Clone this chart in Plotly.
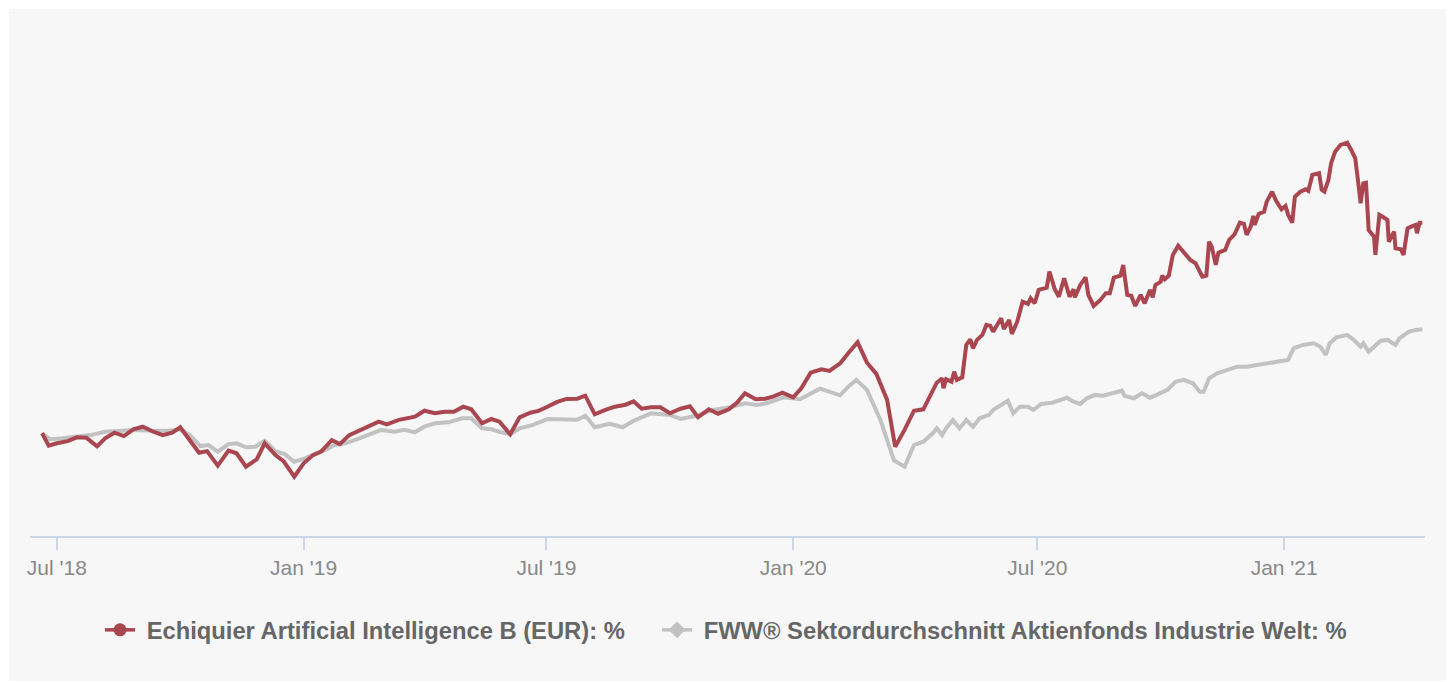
import pandas as pd
import plotly.graph_objects as go

# Performance in %. Time as day offsets from 1 Jul 2018.
START = "2018-07-01"

red_name = "Echiquier Artificial Intelligence B (EUR): %"
red_days = [-11, -6, 0, 8, 15, 22, 30, 36, 43, 50, 57, 64, 72, 79, 86, 92, 106, 112, 120, 128,
            134, 141, 149, 155, 163, 169, 177, 184, 191, 197, 205, 211, 218, 226, 232, 240, 246,
            255, 267, 274, 282, 289, 296, 303, 309, 317, 324, 330, 338, 345, 353, 359, 365, 373,
            380, 388, 394, 401, 409, 416, 424, 430, 436, 443, 450, 457, 465, 472, 478, 486, 493,
            501, 507, 513, 521, 528, 534, 541, 549, 555, 562, 570, 576, 584, 590, 597, 604, 611,
            619, 625, 632, 639, 646, 651, 656, 660, 661, 663, 667, 669, 671, 675, 678, 681, 683,
            686, 690, 693, 696, 698, 704, 706, 710, 712, 716, 720, 724, 726, 729, 732, 738, 740,
            744, 747, 751, 755, 758, 759, 763, 767, 769, 773, 778, 782, 785, 788, 793, 795, 798,
            801, 804, 808, 811, 815, 817, 819, 823, 824, 826, 829, 832, 836, 840, 845, 849, 851,
            854, 857, 859, 861, 864, 866, 871, 874, 878, 882, 885, 887, 890, 892, 893, 896, 900,
            902, 906, 909, 913, 916, 918, 921, 923, 927, 931, 933, 936, 941, 943, 945, 948, 950,
            953, 957, 962, 965, 968, 970, 972, 974, 976, 978, 982, 983, 985, 986, 989, 992, 993,
            997, 998, 1002, 1004, 1007, 1011, 1013, 1014, 1016, 1018]
red_vals = [0.1, -6.1, -4.9, -3.8, -1.9, -2.1, -6.4, -2.4, 0.4, -1.3, 2.1, 3.4, 0.9, -0.8, 0.4,
            3.1, -9.6, -8.8, -16.1, -8.6, -9.9, -16.6, -12.9, -4.9, -10.8, -13.8, -21.6, -14.9,
            -10.8, -9.1, -3.3, -5.3, -0.8, 1.8, 3.4, 5.9, 4.6, 6.8, 8.4, 11.4, 10.1, 10.9, 10.9,
            13.4, 12.1, 5.1, 7.3, 5.9, -0.4, 8.1, 10.4, 11.3, 13.1, 15.8, 17.3, 17.4, 18.9, 9.6,
            11.8, 13.4, 14.4, 16.1, 12.4, 13.1, 13.1, 10.1, 12.4, 13.6, 8.1, 12.1, 9.9, 12.1,
            15.4, 20.1, 17.1, 17.4, 18.4, 20.4, 18.1, 22.6, 30.4, 32.1, 31.3, 35.1, 40.1, 45.6,
            35.4, 29.8, 16.8, -6.6, 1.8, 11.4, 12.1, 19.3, 25.4, 27.6, 22.6, 27.1, 25.9, 30.9,
            26.8, 28.1, 44.3, 47.1, 42.6, 46.8, 49.3, 54.3, 53.8, 50.9, 57.6, 52.3, 56.8, 49.8,
            55.9, 65.9, 64.8, 67.6, 65.1, 71.8, 72.9, 80.9, 72.1, 68.4, 77.6, 68.4, 72.1, 68.1,
            74.3, 78.1, 69.3, 63.8, 66.8, 70.1, 70.1, 77.9, 78.9, 84.3, 69.3, 68.9, 63.8, 69.3,
            65.1, 71.8, 68.1, 74.3, 75.9, 78.9, 77.1, 78.9, 89.3, 93.9, 90.4, 86.8, 85.1, 82.6,
            78.4, 78.9, 95.9, 93.4, 84.3, 90.4, 91.8, 96.8, 99.6, 105.4, 104.8, 99.3, 103.4,
            108.8, 104.3, 109.8, 110.9, 115.9, 120.9, 116.4, 112.1, 113.8, 109.3, 105.4, 118.4,
            120.9, 122.1, 121.3, 129.3, 130.1, 121.8, 120.9, 126.8, 135.1, 140.9, 144.3, 145.4,
            141.8, 137.6, 126.8, 115.1, 125.1, 125.4, 101.8, 98.4, 89.3, 100.9, 109.3, 108.1,
            106.8, 95.9, 100.9, 92.6, 92.1, 89.3, 102.6, 103.8, 104.3, 100.1, 105.4, 105.4]

gray_name = "FWW® Sektordurchschnitt Aktienfonds Industrie Welt: %"
gray_days = [-11, -5, 4, 16, 25, 36, 46, 58, 71, 83, 92, 99, 107, 113, 120, 128, 134, 141, 148,
             155, 163, 170, 177, 185, 192, 200, 207, 215, 222, 232, 242, 252, 259, 267, 274, 282,
             292, 302, 309, 317, 324, 330, 338, 345, 355, 366, 378, 388, 394, 401, 412, 422, 430,
             443, 457, 465, 477, 489, 502, 513, 522, 529, 542, 554, 569, 584, 590, 596, 604, 614,
             624, 632, 639, 646, 653, 656, 660, 663, 668, 673, 678, 683, 688, 695, 698, 705, 709,
             713, 718, 724, 728, 734, 742, 747, 753, 758, 763, 768, 774, 780, 788, 794, 796, 803,
             809, 815, 820, 828, 834, 840, 847, 852, 855, 859, 865, 872, 880, 887, 895, 902, 910,
             918, 922, 929, 937, 942, 946, 949, 954, 962, 967, 972, 974, 978, 982, 987, 992, 998,
             1001, 1008, 1013, 1018]
gray_vals = [0.1, -2.9, -2.4, -1.3, -0.8, 0.9, 1.4, 1.8, 1.4, 1.4, 2.1, -0.8, -6.3, -5.8, -9.1,
             -5.3, -4.9, -6.9, -6.6, -3.6, -8.8, -10.3, -14.1, -12.4, -10.3, -8.3, -5.8, -4.9,
             -3.3, -0.8, 1.8, 0.9, 1.8, 0.6, 3.4, 5.1, 5.6, 7.6, 7.6, 2.6, 2.1, 0.9, -0.4, 2.6,
             4.3, 7.3, 7.3, 6.9, 8.9, 3.1, 4.9, 3.1, 6.4, 10.1, 9.3, 7.3, 8.9, 11.8, 13.1, 15.1,
             14.3, 15.1, 18.1, 17.1, 22.4, 19.1, 23.4, 26.8, 21.8, 6.8, -13.3, -16.6, -5.8, -4.1,
             0.1, 2.6, -0.8, 2.6, 6.8, 2.6, 6.8, 3.4, 7.6, 9.3, 11.8, 14.8, 16.4, 10.1, 13.4,
             13.4, 11.8, 14.8, 15.4, 16.4, 17.9, 15.9, 14.8, 17.6, 19.3, 18.9, 20.4, 21.4, 18.8,
             17.6, 20.1, 17.9, 19.3, 21.8, 25.9, 26.8, 25.1, 20.9, 20.9, 27.6, 30.1, 31.8, 33.4,
             33.4, 34.3, 35.1, 35.9, 36.8, 42.6, 44.3, 45.1, 43.4, 39.3, 45.1, 48.1, 49.3, 46.8,
             43.4, 45.1, 40.9, 43.4, 46.4, 46.8, 44.3, 47.6, 50.9, 51.8, 52.1]

tick_dates = ["2018-07-01", "2019-01-01", "2019-07-01", "2020-01-01", "2020-07-01", "2021-01-01"]
tick_labels = ["Jul '18", "Jan '19", "Jul '19", "Jan '20", "Jul '20", "Jan '21"]

RED = "#a94650"
GRAY = "#c2c2c2"
FONT = "Liberation Sans, Arial, Helvetica, sans-serif"
NBSP = "\u00a0"

start = pd.Timestamp(START)
red_x = start + pd.to_timedelta(red_days, unit="D")
gray_x = start + pd.to_timedelta(gray_days, unit="D")

fig = go.Figure()
fig.add_trace(go.Scatter(x=gray_x, y=gray_vals, mode="lines", line=dict(color=GRAY, width=4),
                         showlegend=False, hoverinfo="skip"))
fig.add_trace(go.Scatter(x=red_x, y=red_vals, mode="lines", line=dict(color=RED, width=4),
                         showlegend=False, hoverinfo="skip"))
# legend entries
fig.add_trace(go.Scatter(x=[None], y=[None], mode="lines+markers", name=NBSP + red_name,
                         line=dict(color=RED, width=3.5), legend="legend",
                         marker=dict(symbol="circle", size=13, color=RED)))
fig.add_trace(go.Scatter(x=[None], y=[None], mode="lines+markers", name=NBSP + gray_name,
                         line=dict(color=GRAY, width=3.5), legend="legend2",
                         marker=dict(symbol="diamond", size=13, color=GRAY)))

legend_font = dict(size=23.75, color="#666666", weight="bold", family=FONT)
fig.update_layout(
    width=1437, height=672,
    margin=dict(l=21, r=21, t=11, b=145),
    paper_bgcolor="#f7f7f7", plot_bgcolor="#f7f7f7",
    font=dict(family=FONT),
    showlegend=True,
    legend=dict(orientation="h", x=0.0502, xanchor="left", y=-0.182, yanchor="middle",
                font=legend_font, bgcolor="rgba(0,0,0,0)"),
    legend2=dict(orientation="h", x=0.4495, xanchor="left", y=-0.182, yanchor="middle",
                 font=legend_font, bgcolor="rgba(0,0,0,0)"),
    xaxis=dict(type="date", range=["2018-06-11", "2021-04-16"],
               tickvals=tick_dates, ticktext=tick_labels,
               ticks="outside", ticklen=12, tickwidth=2, tickcolor="#ccd6eb",
               showline=True, linecolor="#ccd6eb", linewidth=2,
               showgrid=False, zeroline=False,
               tickfont=dict(size=21, color="#888888")),
    yaxis=dict(range=[-51.25, 206.75], showgrid=False, zeroline=False,
               showticklabels=False, showline=False),
)

fig.write_html("out.html",
               post_script="document.body.style.margin='9px 0 0 9px';document.body.style.overflow='hidden';")
